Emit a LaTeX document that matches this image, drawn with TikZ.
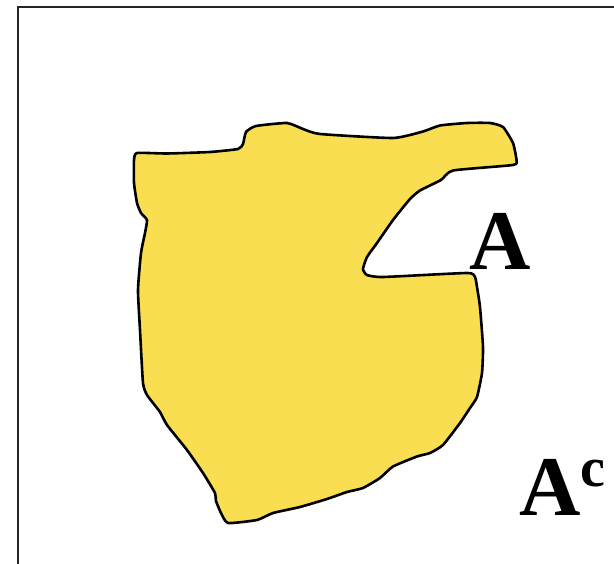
\documentclass[tikz,border=0pt]{standalone}
\usepackage{fontspec}
\setmainfont{Liberation Serif}
\usepackage{tikz}
\definecolor{setyellow}{HTML}{F9DE52}

\begin{document}
\begin{tikzpicture}[x=1pt,y=-1pt,
  lbl/.style={inner sep=0pt,anchor=base west,font=\fontsize{85}{90}\selectfont\bfseries},
  blob/.style={draw=black,line width=2.6pt,fill=setyellow,line join=round}]
\useasboundingbox (0,0) rectangle (614,564);
\clip (0,0) rectangle (614,564);
% universe
\draw[line width=2.2pt,black!85] (18,7) rectangle (640,590);
% set A
\draw[blob] plot[smooth cycle,tension=0.3] coordinates {
  (137,153) (167,153.5) (210,152) (238,149) (243,144) (246,132) (256,126)
  (287,123) (303,129) (320,134) (393,138) (423,131.5) (440,125.5) (467,123)
  (490,123) (503,127) (513,143) (516.5,160) (513,165) (453,170.5) (441,180)
  (420,190.5) (410,199) (393,220) (377,243) (367,257) (363,269) (367,275)
  (383,277) (467,273) (475,277) (477,287) (480,307) (483,347) (482,373)
  (477,397) (470,408) (460,423) (443,445) (430,453) (417,456.5) (393,466.5)
  (380,478) (363,488) (347,492) (327,499) (300,507) (273,513) (257,520)
  (228,523) (221,513) (216,501) (215,493) (203,473) (187,450) (167,425)
  (160,412) (147,395) (143,383) (140,330) (138,290) (141,253) (145,233)
  (147,220) (141,213) (137,203) (134,183) (134,160)};
\node[lbl] (setA) at (469,270) {A};
\node[lbl] (setAc) at (519,515) {A\raisebox{0.33em}{\fontsize{56}{60}\selectfont c}};
\end{tikzpicture}
\end{document}
